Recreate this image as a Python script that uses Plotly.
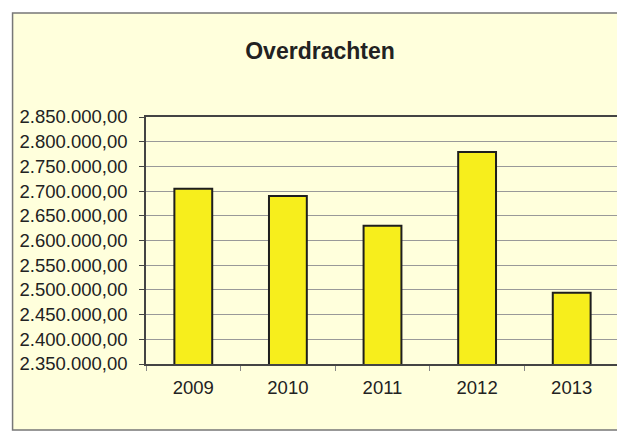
import plotly.graph_objects as go

years = ["2009", "2010", "2011", "2012", "2013"]
values = [2705000, 2690000, 2630000, 2779000, 2494000]

# the page body adds an 8px margin, so the figure is laid out 8px up/left
OFF = 8
W, H = 625 - OFF, 434 - OFF
L, R, T, B = 146 - OFF, W - (621 - OFF), 117 - OFF, H - (364 - OFF)
pw, ph = W - L - R, H - T - B

def px_x(x):
    return (x - OFF - L) / pw

def px_y(y):
    return (H - B - (y - OFF)) / ph

fig = go.Figure(go.Bar(
    x=years, y=values,
    marker=dict(color="#F7EE1C", line=dict(color="#1e1e1e", width=2)),
    width=0.4,
))

fig.update_layout(
    width=W, height=H,
    margin=dict(l=L, r=R, t=T, b=B, pad=0),
    paper_bgcolor="white",
    plot_bgcolor="white",
    separators=",.",
    showlegend=False,
    font=dict(family="Liberation Sans, Arial, sans-serif", color="#222222"),
    title=dict(text="<b>Overdrachten</b>", x=(320 - OFF) / W, xanchor="center",
               y=1 - (51 - OFF) / H, yanchor="middle", yref="container",
               font=dict(size=23, color="#222222")),
    shapes=[dict(type="rect", xref="paper", yref="paper",
                 x0=px_x(12), x1=px_x(622), y0=px_y(430), y1=px_y(13),
                 fillcolor="#FFFFDC", line=dict(color="#777777", width=1.5),
                 layer="below")],
)

fig.update_yaxes(
    range=[2350000, 2850000], dtick=50000, tick0=2350000,
    tickformat=",.2f", tickfont=dict(size=18.5, color="#222222"),
    showgrid=True, gridcolor="#999999", gridwidth=1,
    showline=True, linecolor="#444444", linewidth=1.5, mirror=True,
    ticks="outside", ticklen=5, tickcolor="#444444",
    ticklabelstandoff=8, zeroline=False,
)
fig.update_xaxes(
    tickfont=dict(size=18.5, color="#222222"),
    showline=True, linecolor="#444444", linewidth=1.5, mirror=True,
    ticks="outside", ticklen=5, tickcolor="#888888", tickson="boundaries",
    ticklabelstandoff=6,
)

fig.write_html("out.html")
